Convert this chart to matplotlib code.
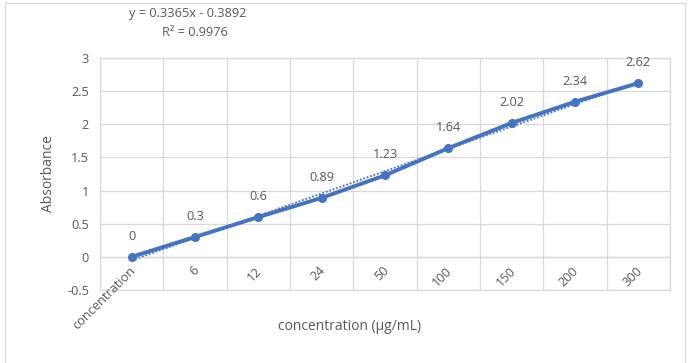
import numpy as np
import matplotlib.pyplot as plt
from matplotlib.patches import Rectangle

plt.rcParams['font.family'] = ['Open Sans', 'DejaVu Sans']

categories = ['concentration', '6', '12', '24', '50', '100', '150', '200', '300']
absorbance = [0, 0.3, 0.6, 0.89, 1.23, 1.64, 2.02, 2.34, 2.62]
slope, intercept = 0.3365, -0.3892
equation = 'y = 0.3365x - 0.3892'
r2_text = 'R² = 0.9976'

blue = '#4472C4'
txt = '#595959'
grid = '#d9d9d9'

fig = plt.figure(figsize=(6.95, 3.63), dpi=100)
ax = fig.add_axes([100 / 695, 1 - 290 / 363, 570 / 695, 232 / 363])

n = len(categories)
x = np.arange(n)

# trendline (excel numbers x from 1)
trend = slope * (x + 1) + intercept
ax.plot(x, trend, color=blue, lw=1.3, ls=(0, (1, 1)), zorder=2)
ax.plot(x, absorbance, color=blue, lw=2.8, marker='o', ms=5.5, zorder=3)

for xi, v in zip(x, absorbance):
    ax.annotate(f'{v:g}', (xi, v), xytext=(0, 10), textcoords='offset points',
                ha='center', va='bottom', fontsize=9.2, color=txt)

ax.set_xlim(-0.5, n - 0.5)
ax.set_ylim(-0.5, 3)
ax.set_yticks(np.arange(-0.5, 3.01, 0.5))
ax.set_yticklabels([f'{t:g}' for t in np.arange(-0.5, 3.01, 0.5)])
ax.set_xticks(np.arange(-0.5, n, 1), minor=False)
ax.set_xticklabels([])
ax.grid(True, color=grid, lw=0.9)
ax.set_axisbelow(True)
ax.tick_params(length=0, labelsize=9.2, colors=txt, pad=8)
for s in ax.spines.values():
    s.set_color(grid)
    s.set_linewidth(0.9)
ax.axhline(0, color=grid, lw=0.9, zorder=1)

for xi, lab in zip(x, categories):
    ax.text(xi + 0.1, -0.11, lab, rotation=45, ha='right', va='top',
            fontsize=9.2, color=txt)

ax.set_ylabel('Absorbance', fontsize=10, color=txt, labelpad=8)
fig.text(350 / 695, 1 - 327 / 363, 'concentration (µg/mL)', ha='center', va='center',
         fontsize=10, color=txt)
fig.text(188 / 695, 1 - 14 / 363, equation, ha='center', va='center', fontsize=9.2, color=txt)
fig.text(195 / 695, 1 - 32 / 363, r2_text, ha='center', va='center', fontsize=9.2, color=txt)

fig.patches.append(Rectangle((5 / 695, -0.1), 680 / 695, 1.092, transform=fig.transFigure,
                             fill=False, edgecolor=grid, lw=0.9))

fig.savefig('out.png', dpi=100)
